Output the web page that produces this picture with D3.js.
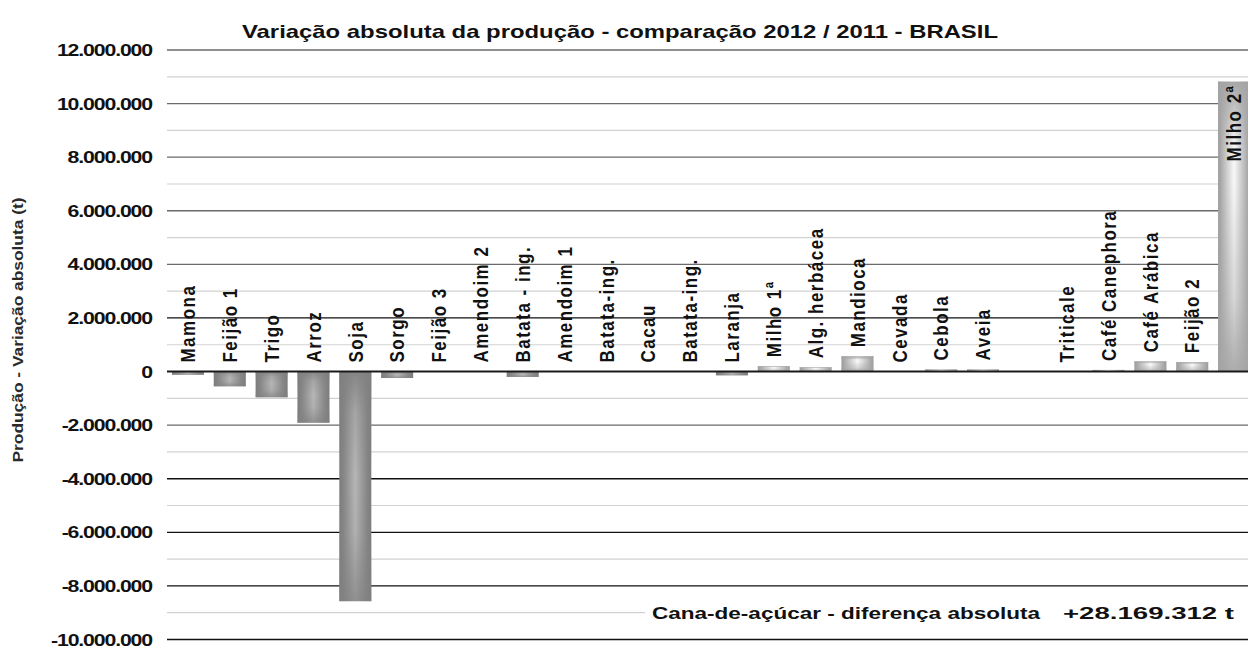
<!DOCTYPE html>
<html><head><meta charset="utf-8">
<script src="https://cdn.jsdelivr.net/npm/d3@7"></script>
<style>
html,body{margin:0;padding:0;background:#fff;}
svg{display:block;font-family:"Liberation Sans",Arial,sans-serif;}
</style></head>
<body><svg id="c" width="1248" height="649"></svg>
<script>
const categories = ["Mamona","Feijão 1","Trigo","Arroz","Soja","Sorgo","Feijão 3","Amendoim 2","Batata - ing.","Amendoim 1","Batata-ing.","Cacau","Batata-ing.","Laranja","Milho 1ª","Alg. herbácea","Mandioca","Cevada","Cebola","Aveia","","Triticale","Café Canephora","Café Arábica","Feijão 2","Milho 2ª"];
const values = [-120000,-550000,-960000,-1910000,-8570000,-240000,0,0,-200000,0,0,0,0,-140000,200000,160000,570000,0,80000,80000,0,0,60000,380000,350000,10820000];
const yTicks = [-10000000,-8000000,-6000000,-4000000,-2000000,0,2000000,4000000,6000000,8000000,10000000,12000000];
const minorTicks = [-9000000,-7000000,-5000000,-3000000,-1000000,1000000,3000000,5000000,7000000,9000000,11000000];
const titleText = "Variação absoluta da produção - comparação 2012 / 2011 - BRASIL";
const yTitle = "Produção - Variação absoluta (t)";
const noteLabel = "Cana-de-açúcar - diferença absoluta";
const noteValue = "+28.169.312 t";

(function(){
const svg = d3.select("#c");
const pLeft = 167, pRight = 1255, pTop = 50, pBottom = 639.5;
const x = d3.scaleBand().domain(d3.range(categories.length)).range([pLeft, pRight]).paddingInner(0.235).paddingOuter(0.1175);
const y = d3.scaleLinear().domain([-10000000, 12000000]).range([pBottom, pTop]);
const fmt = d3.formatLocale({decimal:",", thousands:".", grouping:[3], currency:["",""], minus:"-"}).format(",");

const defs = svg.append("defs");
function hgrad(id, stops){
  const g = defs.append("linearGradient").attr("id", id).attr("x1",0).attr("x2",1).attr("y1",0).attr("y2",0);
  stops.forEach(s=>g.append("stop").attr("offset",s[0]).attr("stop-color",s[1]));
}
function vgrad(id, c, stops){
  const g = defs.append("linearGradient").attr("id", id).attr("x1",0).attr("x2",0).attr("y1",0).attr("y2",1);
  stops.forEach(s=>g.append("stop").attr("offset",s[0]).attr("stop-color",c).attr("stop-opacity",s[1]));
}
hgrad("negH",[[0,"#7c7c7c"],[0.15,"#888"],[0.5,"#b6b6b6"],[0.85,"#888"],[1,"#7c7c7c"]]);
vgrad("negV","#808080",[[0,0.9],[0.18,0.3],[0.45,0],[0.7,0.1],[1,0.7]]);
hgrad("posH",[[0,"#9a9a9a"],[0.12,"#b0b0b0"],[0.5,"#f8f8f8"],[0.88,"#b0b0b0"],[1,"#9a9a9a"]]);
vgrad("posV","#a4a4a4",[[0,0.95],[0.12,0.5],[0.22,0],[0.35,0],[0.75,0.4],[1,0.9]]);

// gridlines
svg.append("g").selectAll("line").data(minorTicks).join("line")
  .attr("x1", pLeft).attr("x2", 1248).attr("y1", d=>y(d)).attr("y2", d=>y(d))
  .attr("stroke","#d2d2d2").attr("stroke-width",1.2);
svg.append("g").selectAll("line").data(yTicks.filter(d=>d!==0)).join("line")
  .attr("x1", pLeft).attr("x2", 1248).attr("y1", d=>y(d)).attr("y2", d=>y(d))
  .attr("stroke", d=> (d>=4000000 || d===-2000000) ? "#6a6a6a" : "#111").attr("stroke-width",1.3);

// tick labels
svg.append("g").selectAll("text").data(yTicks).join("text")
  .attr("transform", d=>`translate(152,${y(d)}) scale(1.25,1)`)
  .attr("text-anchor","end").attr("dy","0.36em")
  .attr("font-size",17).attr("font-weight","bold").attr("letter-spacing",-0.9).attr("fill","#111")
  .text(d=>fmt(d));

// y title
svg.append("text").attr("transform",`translate(23,330) rotate(-90)`)
  .attr("text-anchor","middle").attr("font-size",15).attr("font-weight","bold").attr("fill","#2a2a2a")
  .attr("textLength",265).attr("lengthAdjust","spacingAndGlyphs")
  .text(yTitle);

// bars
const y0 = y(0);
const bars = svg.append("g").selectAll("g").data(values.map((v,i)=>({v,i})).filter(d=>d.v!==0)).join("g");
["H","V"].forEach(k=>{
  bars.append("rect")
    .attr("x", d=>x(d.i)).attr("width", x.bandwidth())
    .attr("y", d=>Math.min(y(d.v), y0)).attr("height", d=>Math.abs(y(d.v)-y0))
    .attr("fill", d=>`url(#${d.v<0?"neg":"pos"}${k})`);
});

// zero line
svg.append("line").attr("x1",pLeft).attr("x2",1248).attr("y1",y0).attr("y2",y0).attr("stroke","#1a1a1a").attr("stroke-width",2);

// category labels
svg.append("g").selectAll("text").data(categories.map((c,i)=>({c,i,v:values[i]}))).join("text")
  .attr("transform", d=>{
    const cx = x(d.i)+x.bandwidth()/2;
    const inside = y(d.v) < 130;
    const yy = inside ? y(d.v)+3 : Math.min(y0, y(d.v)) - 9;
    return `translate(${cx},${yy}) scale(1.18,1) rotate(-90)`;
  })
  .attr("text-anchor", d=> y(d.v) < 130 ? "end" : "start")
  .attr("dy","0.36em")
  .attr("font-size",17).attr("font-weight","bold").attr("letter-spacing",1.5).attr("fill","#111")
  .text(d=>d.c);

// title
svg.append("text").attr("x",620).attr("y",38).attr("text-anchor","middle")
  .attr("font-size",18.5).attr("font-weight","bold").attr("fill","#111")
  .attr("textLength",756).attr("lengthAdjust","spacingAndGlyphs")
  .text(titleText);

// note
const ny = y(-9000000);
svg.append("rect").attr("x",645).attr("y",ny-11).attr("width",603).attr("height",22).attr("fill","#fff");
svg.append("text").attr("x",652).attr("y",ny).attr("dy","0.36em")
  .attr("font-size",16.5).attr("font-weight","bold").attr("fill","#111")
  .attr("textLength",388).attr("lengthAdjust","spacingAndGlyphs").text(noteLabel);
svg.append("text").attr("x",1063).attr("y",ny).attr("dy","0.36em")
  .attr("font-size",16.5).attr("font-weight","bold").attr("fill","#111")
  .attr("textLength",171).attr("lengthAdjust","spacingAndGlyphs").text(noteValue);
})();
</script></body></html>
